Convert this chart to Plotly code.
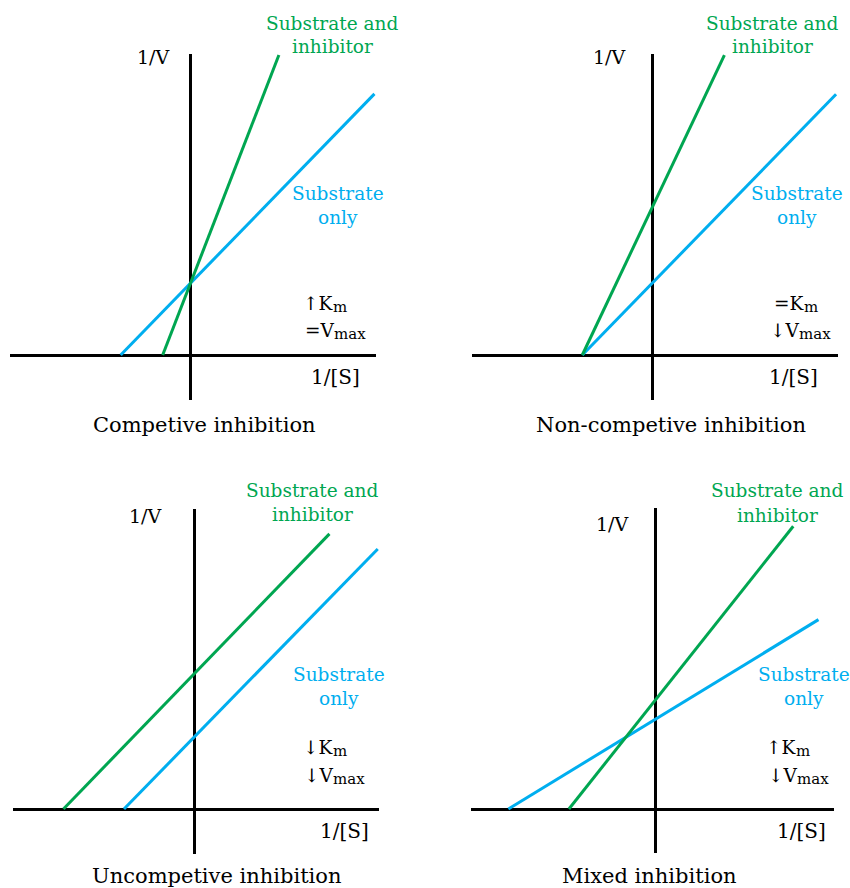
import plotly.graph_objects as go

W, H = 850, 888
GREEN = "#00a651"
BLUE = "#00aeef"
FONT = "DejaVu Serif"
PX_PER_UNIT = 35.0

titles = ["Competive inhibition", "Non-competive inhibition",
          "Uncompetive inhibition", "Mixed inhibition"]
# change in Km and Vmax for each inhibition type: (symbol and letter, subscript)
km_change = [("↑K", "m"), ("=K", "m"), ("↓K", "m"), ("↑K", "m")]
vmax_change = [("=V", "max"), ("↓V", "max"), ("↓V", "max"), ("↓V", "max")]
inhibitor_label = ["Substrate and", "inhibitor"]
substrate_label = ["Substrate", "only"]

# Lineweaver-Burk lines, drawn from the x-intercept (-1/Km) up to an end point
# 1/[S] and 1/V values for "Substrate only"
substrate_x = [[-2.0, 5.25], [-2.0, 5.25], [-2.0, 5.25], [-4.21, 4.65]]
substrate_y = [[0.0, 7.46], [0.0, 7.45], [0.0, 7.43], [0.0, 5.41]]
# 1/[S] and 1/V values for "Substrate and inhibitor"
inhibitor_x = [[-0.80, 2.52], [-2.0, 2.06], [-3.73, 3.87], [-2.48, 3.93]]
inhibitor_y = [[0.0, 8.57], [0.0, 8.57], [0.0, 7.86], [0.0, 8.08]]

# panel frames in pixels: axis extents (left, right, top, bottom) and origin
frames = [
    dict(l=10, r=376, t=54, b=400, ox=190.7, oy=355),
    dict(l=471.7, r=838, t=54, b=400, ox=652.3, oy=355),
    dict(l=13.3, r=379, t=509, b=854, ox=194, oy=809),
    dict(l=471, r=834, t=508.3, b=853.3, ox=655.7, oy=809),
]
# label anchors in pixels per panel (km / vmax: x where the subscript starts, y)
label_pos = [
    dict(v=(153, 57), inh=(332, 23), sub=(338, 193), km=(334, 303), vm=(335, 330),
         s=(335, 377), title=(204, 425)),
    dict(v=(609, 57), inh=(772, 23), sub=(797, 193), km=(805, 303), vm=(800, 330),
         s=(793, 377), title=(671, 425)),
    dict(v=(145, 516), inh=(312, 490), sub=(339, 674), km=(334, 747), vm=(334, 775),
         s=(344, 831), title=(217, 876)),
    dict(v=(612, 524), inh=(777, 491), sub=(804, 674), km=(797, 747), vm=(798, 775),
         s=(801, 831), title=(649, 876)),
]


def px(x):
    return x / W


def py(y):
    return 1 - y / H


fig = go.Figure()
annotations = []


def add(text, pos, color="black", xanchor="center", size=18.5):
    annotations.append(dict(text=text, x=px(pos[0]), y=py(pos[1]),
                            xref="paper", yref="paper", showarrow=False,
                            xanchor=xanchor, yanchor="middle", borderpad=0,
                            font=dict(family=FONT, size=size, color=color)))


def add_subscripted(main, sub, pos):
    # main part ends where the smaller, lowered subscript begins
    add(main, (pos[0] + 1, pos[1]), xanchor="right")
    add(sub, (pos[0] - 2, pos[1] + 4), xanchor="left", size=15)


for i, fr in enumerate(frames):
    n = "" if i == 0 else str(i + 1)
    xr = [(fr["l"] - fr["ox"]) / PX_PER_UNIT, (fr["r"] - fr["ox"]) / PX_PER_UNIT]
    yr = [-(fr["b"] - fr["oy"]) / PX_PER_UNIT, (fr["oy"] - fr["t"]) / PX_PER_UNIT]
    axis_common = dict(showgrid=False, showticklabels=False, ticks="",
                       showline=False, zeroline=True, zerolinecolor="black",
                       zerolinewidth=3, fixedrange=True)
    fig.layout["xaxis" + n] = dict(domain=[px(fr["l"]), px(fr["r"])], range=xr,
                                   anchor="y" + n, **axis_common)
    fig.layout["yaxis" + n] = dict(domain=[py(fr["b"]), py(fr["t"])], range=yr,
                                   anchor="x" + n, **axis_common)

    fig.add_trace(go.Scatter(x=substrate_x[i], y=substrate_y[i], mode="lines",
                             line=dict(color=BLUE, width=3), cliponaxis=False,
                             xaxis="x" + n, yaxis="y" + n, showlegend=False))
    fig.add_trace(go.Scatter(x=inhibitor_x[i], y=inhibitor_y[i], mode="lines",
                             line=dict(color=GREEN, width=3), cliponaxis=False,
                             xaxis="x" + n, yaxis="y" + n, showlegend=False))

    lp = label_pos[i]
    add("1/V", lp["v"], size=19)
    for k, line in enumerate(inhibitor_label):
        add(line, (lp["inh"][0], lp["inh"][1] + 24 * k), GREEN)
    for k, line in enumerate(substrate_label):
        add(line, (lp["sub"][0], lp["sub"][1] + 24 * k), BLUE)
    add_subscripted(*km_change[i], lp["km"])
    add_subscripted(*vmax_change[i], lp["vm"])
    add("1/[S]", lp["s"], size=20)
    add(titles[i], lp["title"], size=21)

fig.update_layout(width=W, height=H, margin=dict(l=0, r=0, t=0, b=0),
                  paper_bgcolor="white", plot_bgcolor="rgba(0,0,0,0)",
                  annotations=annotations, showlegend=False)

fig.write_html("out.html")
